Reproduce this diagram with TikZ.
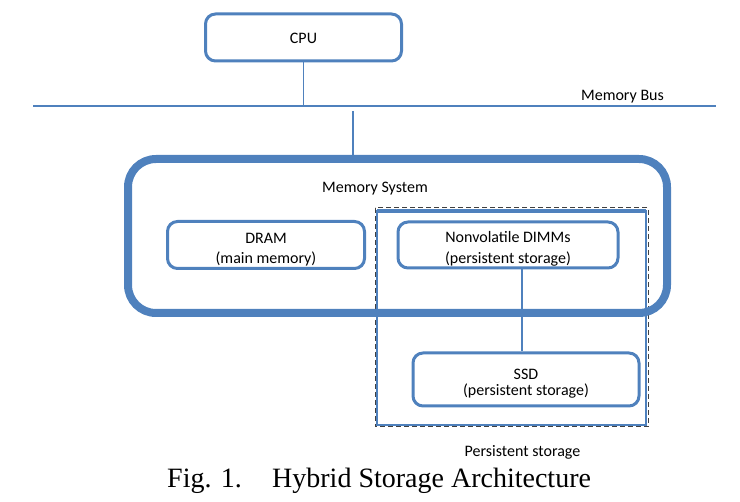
\documentclass[tikz,border=0pt]{standalone}
\usepackage{fontspec}
\setmainfont{Carlito}
\newfontfamily\capfont{Liberation Serif}
\definecolor{obl}{HTML}{4F81BD}
\definecolor{dgray}{HTML}{404040}
\newcommand{\upstrut}[1]{\rule{0pt}{#1}}
\begin{document}
\begin{tikzpicture}[x=1pt,y=-1pt,
  box/.style={draw=obl, line width=3pt, rounded corners=10pt, inner sep=0pt, align=center, font=\fontsize{16}{19.5}\selectfont},
  lab/.style={inner sep=0pt, font=\fontsize{16}{19.5}\selectfont},
  wire/.style={draw=obl, line width=1.5pt},
  capt/.style={inner sep=0pt, anchor=base west, font=\capfont\fontsize{28}{30}\selectfont}]
\useasboundingbox (0,0) rectangle (740,502);
% persistent storage frame
\draw[obl, line width=2pt] (377,211) rectangle (646,425);
\draw[obl, line width=3.5pt] (377,211) -- (646,211);
\draw[dgray, line width=1pt, dash pattern=on 5pt off 3pt] (375,208) rectangle (648,427);
% memory system
\node[draw=obl, line width=8pt, rounded corners=28pt, minimum width=539pt, minimum height=154pt, inner sep=0pt] (mem) at (397.5,236) {};
\node[lab] (memlab) at (375,188.5) {Memory System};
% cpu and bus
\node[box, minimum width=196pt, minimum height=47pt] (cpu) at (303.5,37.5) {\upstrut{13pt}CPU};
\coordinate (busL) at (33,106);
\coordinate (busR) at (716,106);
\draw[wire] (busL) -- (busR);
\draw[wire] (cpu.south) -- (cpu.south |- busL);
\coordinate (tap) at (353,111);
\draw[wire] (tap) -- (tap |- mem.north);
\node[lab] (buslab) at (622.5,96.5) {Memory Bus};
% inner boxes
\node[box, minimum width=197pt, minimum height=47pt] (dram) at (266,245) {\upstrut{19pt}DRAM\\[0.5pt](main memory)};
\node[box, minimum width=220pt, minimum height=46pt] (nv) at (508,245) {\upstrut{19pt}Nonvolatile DIMMs\\[1.5pt](persistent storage)};
\node[box, minimum width=226pt, minimum height=53pt] (ssd) at (526,379.5) {\upstrut{19pt}SSD\\[-3.5pt](persistent storage)};
\coordinate (cx) at (522,0);
\draw[wire] (nv.south -| cx) -- (ssd.north -| cx);
\node[lab] (pslab) at (522.5,452) {Persistent storage};
% caption
\node[capt] (cap1) at (167,488) {Fig. 1.};
\node[capt] (cap2) at (272,488) {Hybrid Storage Architecture};
\end{tikzpicture}
\end{document}
